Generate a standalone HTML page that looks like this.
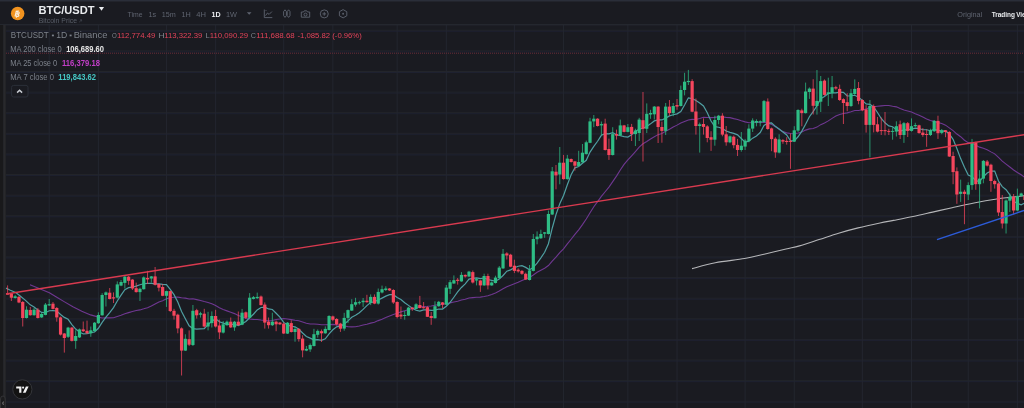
<!DOCTYPE html>
<html><head><meta charset="utf-8">
<style>
html,body{margin:0;padding:0;}
body{width:1024px;height:408px;overflow:hidden;background:#1a1b21;position:relative;font-family:"Liberation Sans",sans-serif;}
svg{position:absolute;left:0;top:0;filter:blur(0.3px);}
text{font-family:"Liberation Sans",sans-serif;}
</style></head><body>
<svg width="1024" height="408" viewBox="0 0 1024 408">
<rect x="0" y="0" width="1024" height="408" fill="#1a1b21"/>
<rect x="6" y="29.78" width="1018" height="1" fill="#23252b"/>
<rect x="6" y="30.78" width="1018" height="1" fill="#1e2130"/>
<rect x="6" y="50.39" width="1018" height="1" fill="#23252b"/>
<rect x="6" y="51.39" width="1018" height="1" fill="#1e2130"/>
<rect x="6" y="71" width="1018" height="1" fill="#23252b"/>
<rect x="6" y="72" width="1018" height="1" fill="#1e2130"/>
<rect x="6" y="91.61" width="1018" height="1" fill="#23252b"/>
<rect x="6" y="92.61" width="1018" height="1" fill="#1e2130"/>
<rect x="6" y="112.22" width="1018" height="1" fill="#23252b"/>
<rect x="6" y="113.22" width="1018" height="1" fill="#1e2130"/>
<rect x="6" y="132.83" width="1018" height="1" fill="#23252b"/>
<rect x="6" y="133.83" width="1018" height="1" fill="#1e2130"/>
<rect x="6" y="153.44" width="1018" height="1" fill="#23252b"/>
<rect x="6" y="154.44" width="1018" height="1" fill="#1e2130"/>
<rect x="6" y="174.05" width="1018" height="1" fill="#23252b"/>
<rect x="6" y="175.05" width="1018" height="1" fill="#1e2130"/>
<rect x="6" y="194.66" width="1018" height="1" fill="#23252b"/>
<rect x="6" y="195.66" width="1018" height="1" fill="#1e2130"/>
<rect x="6" y="215.27" width="1018" height="1" fill="#23252b"/>
<rect x="6" y="216.27" width="1018" height="1" fill="#1e2130"/>
<rect x="6" y="235.88" width="1018" height="1" fill="#23252b"/>
<rect x="6" y="236.88" width="1018" height="1" fill="#1e2130"/>
<rect x="6" y="256.49" width="1018" height="1" fill="#23252b"/>
<rect x="6" y="257.49" width="1018" height="1" fill="#1e2130"/>
<rect x="6" y="277.1" width="1018" height="1" fill="#23252b"/>
<rect x="6" y="278.1" width="1018" height="1" fill="#1e2130"/>
<rect x="6" y="297.71" width="1018" height="1" fill="#23252b"/>
<rect x="6" y="298.71" width="1018" height="1" fill="#1e2130"/>
<rect x="6" y="318.32" width="1018" height="1" fill="#23252b"/>
<rect x="6" y="319.32" width="1018" height="1" fill="#1e2130"/>
<rect x="6" y="338.93" width="1018" height="1" fill="#23252b"/>
<rect x="6" y="339.93" width="1018" height="1" fill="#1e2130"/>
<rect x="6" y="359.54" width="1018" height="1" fill="#23252b"/>
<rect x="6" y="360.54" width="1018" height="1" fill="#1e2130"/>
<rect x="6" y="380.15" width="1018" height="1" fill="#23252b"/>
<rect x="6" y="381.15" width="1018" height="1" fill="#1e2130"/>
<rect x="6" y="400.76" width="1018" height="1" fill="#23252b"/>
<rect x="6" y="401.76" width="1018" height="1" fill="#1e2130"/>
<rect x="48.7" y="25" width="1" height="383" fill="#23262f"/>
<rect x="97.87" y="25" width="1" height="383" fill="#23262f"/>
<rect x="165.94" y="25" width="1" height="383" fill="#23262f"/>
<rect x="215.11" y="25" width="1" height="383" fill="#23262f"/>
<rect x="283.19" y="25" width="1" height="383" fill="#23262f"/>
<rect x="332.35" y="25" width="1" height="383" fill="#23262f"/>
<rect x="396.65" y="25" width="1" height="383" fill="#23262f"/>
<rect x="445.81" y="25" width="1" height="383" fill="#23262f"/>
<rect x="513.89" y="25" width="1" height="383" fill="#23262f"/>
<rect x="563.05" y="25" width="1" height="383" fill="#23262f"/>
<rect x="627.35" y="25" width="1" height="383" fill="#23262f"/>
<rect x="676.51" y="25" width="1" height="383" fill="#23262f"/>
<rect x="744.59" y="25" width="1" height="383" fill="#23262f"/>
<rect x="793.76" y="25" width="1" height="383" fill="#23262f"/>
<rect x="861.83" y="25" width="1" height="383" fill="#23262f"/>
<rect x="911" y="25" width="1" height="383" fill="#23262f"/>
<rect x="967.73" y="25" width="1" height="383" fill="#23262f"/>
<rect x="1016.89" y="25" width="1" height="383" fill="#23262f"/>
<line x1="6" y1="53.2" x2="1024" y2="53.2" stroke="#6a2c38" stroke-width="1" stroke-dasharray="1 1"/>
<path d="M692.05,268.60 C695.92,267.62 706.54,264.38 715.30,262.70 C724.06,261.02 736.47,259.97 744.60,258.55 C752.73,257.13 757.20,255.79 764.10,254.20 C771.00,252.61 780.10,250.38 786.00,249.00 C791.90,247.62 793.98,247.47 799.50,245.90 C805.02,244.33 812.58,241.72 819.10,239.60 C825.62,237.48 832.10,235.15 838.60,233.20 C845.10,231.25 851.20,229.60 858.10,227.90 C865.00,226.20 874.10,224.25 880.00,223.00 C885.90,221.75 887.98,221.48 893.50,220.40 C899.02,219.32 906.58,217.88 913.10,216.50 C919.62,215.12 926.10,213.57 932.60,212.10 C939.10,210.63 945.20,209.22 952.10,207.70 C959.00,206.18 966.55,204.45 974.00,203.00 C981.45,201.55 990.80,199.93 996.80,199.00 C1002.80,198.07 1005.47,197.93 1010.00,197.40 C1014.53,196.87 1021.67,196.07 1024.00,195.80" fill="none" stroke="#b4b5b8" stroke-width="1.1"/>
<path d="M30,284.7 L39.1,288.4 L49.4,292.8 L56.8,297.2 L64.1,301.6 L72.9,306.8 L81.8,311.2 L90.6,314.9 L99.4,317.4 L102.15,318.01 L105.93,317.8 L109.71,317.9 L113.5,317.74 L117.28,316.4 L121.06,315.29 L124.84,313.75 L128.62,312.6 L132.41,311.42 L136.19,310.54 L139.97,309.91 L143.75,308.84 L147.53,307.66 L151.32,306.02 L155.1,304.02 L158.88,302.01 L162.66,300.74 L166.44,298.75 L170.23,297.75 L174.01,297.2 L177.79,297.09 L181.57,297.78 L185.35,298.12 L189.14,299 L192.92,298.83 L196.7,299.64 L200.48,300.48 L204.26,301.58 L208.05,302.54 L211.83,303.8 L215.61,305.58 L219.39,307.81 L223.17,309.55 L226.96,310.88 L230.74,312.29 L234.52,313.61 L238.3,315.52 L242.08,316.85 L245.87,318.51 L249.65,319.02 L253.43,319.4 L257.21,319.45 L260.99,320.01 L264.78,320.47 L268.56,320.85 L272.34,320.58 L276.12,319.53 L279.9,318.95 L283.69,318.5 L287.47,318.98 L291.25,319.65 L295.03,320.28 L298.81,320.78 L302.6,321.9 L306.38,323.21 L310.16,323.95 L313.94,324.02 L317.72,324.29 L321.51,324.75 L325.29,324.81 L329.07,324.58 L332.85,324.37 L336.63,324.84 L340.42,325.27 L344.2,326.08 L347.98,326.6 L351.76,326.89 L355.54,326.77 L359.33,325.96 L363.11,324.98 L366.89,324.2 L370.67,323.1 L374.45,322.27 L378.24,320.61 L382.02,319.27 L385.8,317.53 L389.58,315.98 L393.36,314.52 L397.15,313.18 L400.93,311.89 L404.71,310.69 L408.49,309.62 L412.27,308.75 L416.06,307.59 L419.84,306.76 L423.62,306.44 L427.4,306.32 L431.18,306.07 L434.97,305.17 L438.75,304.52 L442.53,304.31 L446.31,303.64 L450.09,302.84 L453.88,301.96 L457.66,301.17 L461.44,300.08 L465.22,299.26 L469,297.98 L472.79,297.61 L476.57,297.21 L480.35,297.08 L484.13,296.51 L487.91,295.82 L491.7,294.44 L495.48,292.89 L499.26,290.99 L503.04,288.84 L506.82,286.7 L510.61,285.19 L514.39,283.71 L518.17,282.24 L521.95,280.52 L525.73,278.98 L529.52,277.54 L533.3,275.03 L537.08,272.31 L540.86,270.16 L544.64,268.17 L548.43,265.52 L552.21,261.14 L555.99,257.16 L559.77,252.6 L563.55,248.9 L567.34,243.95 L571.12,239.26 L574.9,234.47 L578.68,229.91 L582.46,224.6 L586.25,219 L590.03,212.75 L593.81,206.79 L597.59,201.68 L601.37,196.42 L605.16,191.76 L608.94,187.12 L612.72,181.63 L616.5,176.1 L620.28,169.94 L624.07,164.4 L627.85,159.92 L631.63,155.82 L635.41,151.68 L639.19,147.18 L642.98,143.77 L646.76,141.47 L650.54,138.97 L654.32,136.73 L658.1,134.64 L661.89,133.54 L665.67,131.32 L669.45,129.22 L673.23,126.98 L677.01,125.13 L680.8,123.04 L684.58,121.45 L688.36,119.94 L692.14,119.37 L695.92,119.44 L699.71,118.42 L703.49,117.29 L707.27,117.45 L711.05,117.61 L714.83,117.4 L718.62,116.75 L722.4,117.04 L726.18,117.37 L729.96,117.6 L733.74,118.63 L737.53,119.48 L741.31,120.75 L745.09,121.86 L748.87,122.74 L752.65,122.48 L756.44,122.08 L760.22,122.66 L764,122.18 L767.78,123.1 L771.56,124.4 L775.35,126.9 L779.13,129.21 L782.91,131.64 L786.69,132.85 L790.47,133.47 L794.26,133.71 L798.04,133.04 L801.82,132.04 L805.6,130.11 L809.38,128.86 L813.17,128.46 L816.95,127.11 L820.73,124.66 L824.51,123.01 L828.29,120.89 L832.08,118.38 L835.86,116.09 L839.64,114.47 L843.42,113.44 L847.2,112.86 L850.99,111.75 L854.77,110.46 L858.55,110.45 L862.33,109.7 L866.11,109.14 L869.9,107.28 L873.68,106.7 L877.46,106.3 L881.24,105.86 L885.02,105.44 L888.81,105.49 L892.59,106.33 L896.37,106.85 L900.15,108.59 L903.93,109.98 L907.72,110.98 L911.5,111.99 L915.28,113.75 L919.06,115.27 L922.84,116.98 L926.63,118.89 L930.41,120.56 L934.19,121.39 L937.97,122.6 L941.75,123.57 L945.54,125.12 L949.32,127.83 L953.1,130.68 L956.88,134.04 L960.66,136.72 L964.45,140.23 L968.23,142.64 L972.01,143.09 L975.79,145.22 L979.57,147.12 L983.36,148.29 L987.14,149.68 L990.92,151.87 L994.7,153.84 L998.48,157.41 L1002.27,161.11 L1006.05,164.08 L1009.83,166.95 L1013.61,170.05 L1017.39,172.49 L1021.18,174.83 L1024.96,177.62" fill="none" stroke="#6f3791" stroke-width="1.1"/>
<path d="M5.9,288.1 L9.8,290 L15.7,292.5 L19.6,295.5 L25.5,300.4 L30.29,304.86 L34.07,307.01 L37.86,309.91 L41.64,312.44 L45.42,312.74 L49.2,310.77 L52.98,310.66 L56.77,310.97 L60.55,314.53 L64.33,317.39 L68.11,319.33 L71.89,324.51 L75.68,329.06 L79.46,331.99 L83.24,333.96 L87.02,333.77 L90.8,332.67 L94.59,331.97 L98.37,328.27 L102.15,322.41 L105.93,317.13 L109.71,312.53 L113.5,307.56 L117.28,301 L121.06,295.19 L124.84,289.71 L128.62,287.69 L132.41,287.13 L136.19,286.14 L139.97,284.76 L143.75,283.76 L147.53,283.39 L151.32,283.34 L155.1,283.91 L158.88,283.8 L162.66,284.33 L166.44,284.66 L170.23,289.46 L174.01,294.64 L177.79,302.07 L181.57,311.47 L185.35,318.77 L189.14,325.76 L192.92,328.57 L196.7,329.19 L200.48,328.84 L204.26,328.57 L208.05,324.56 L211.83,321.3 L215.61,318.7 L219.39,321.79 L223.17,323.07 L226.96,324.27 L230.74,324.4 L234.52,324.29 L238.3,325.6 L242.08,323.63 L245.87,321.54 L249.65,317.74 L253.43,314.24 L257.21,309.89 L260.99,307.51 L264.78,307.14 L268.56,308.93 L272.34,309.49 L276.12,313.29 L279.9,317.16 L283.69,322.39 L287.47,324.9 L291.25,326.24 L295.03,326.79 L298.81,329.27 L302.6,333 L306.38,336.51 L310.16,338.16 L313.94,339.8 L317.72,339.64 L321.51,340.26 L325.29,338.8 L329.07,333.89 L332.85,329.73 L336.63,326.79 L340.42,326 L344.2,324.14 L347.98,320.83 L351.76,317.3 L355.54,315.33 L359.33,312.81 L363.11,309.43 L366.89,305.64 L370.67,302.64 L374.45,301.71 L378.24,299.96 L382.02,298.1 L385.8,296.14 L389.58,294.67 L393.36,294.71 L397.15,297.59 L400.93,299.43 L404.71,302.73 L408.49,305.36 L412.27,308.3 L416.06,310.29 L419.84,311.07 L423.62,309.81 L427.4,309.86 L431.18,310.29 L434.97,310.09 L438.75,309.04 L442.53,309.1 L446.31,306.19 L450.09,302.47 L453.88,297.24 L457.66,291.94 L461.44,287.47 L465.22,283.86 L469,279.13 L472.79,278.4 L476.57,277.97 L480.35,278.71 L484.13,278.01 L487.91,279.51 L491.7,280.37 L495.48,281.23 L499.26,279.1 L503.04,275.47 L506.82,271.2 L510.61,269.87 L514.39,267.8 L518.17,266.21 L521.95,265.67 L525.73,267.37 L529.52,269.74 L533.3,267.39 L537.08,263.09 L540.86,257.81 L544.64,252.23 L548.43,243.69 L552.21,228.23 L555.99,214.66 L559.77,203.76 L563.55,195.54 L567.34,184.77 L571.12,174.73 L574.9,167.83 L578.68,166.5 L582.46,163.26 L586.25,160.34 L590.03,152.1 L593.81,146.4 L597.59,141.26 L601.37,135.31 L605.16,133.6 L608.94,133.93 L612.72,132.76 L616.5,134.79 L620.28,135.74 L624.07,136.59 L627.85,137.03 L631.63,134.76 L635.41,131.26 L639.19,129.19 L642.98,128.21 L646.76,126.56 L650.54,123.86 L654.32,120.91 L658.1,119.9 L661.89,119.96 L665.67,118.1 L669.45,115.86 L673.23,114.74 L677.01,113.83 L680.8,111.46 L684.58,104.99 L688.36,97.84 L692.14,98.57 L695.92,100.41 L699.71,103.03 L703.49,105.93 L707.27,112.79 L711.05,121.07 L714.83,126.66 L718.62,127.23 L722.4,128.46 L726.18,131.03 L729.96,132.37 L733.74,133.4 L737.53,134.87 L741.31,138.54 L745.09,142.1 L748.87,141.24 L752.65,138.13 L756.44,135.94 L760.22,132.51 L764,125.53 L767.78,123.14 L771.56,122.93 L775.35,126.33 L779.13,129.03 L782.91,131.97 L786.69,134.94 L790.47,140.73 L794.26,140.91 L798.04,136.76 L801.82,131.14 L805.6,124.3 L809.38,116.73 L813.17,111.56 L816.95,105.74 L820.73,98.71 L824.51,96.56 L828.29,93.59 L832.08,92.97 L835.86,92.96 L839.64,92.13 L843.42,92.43 L847.2,95.99 L850.99,95.74 L854.77,95.26 L858.55,97.21 L862.33,100.33 L866.11,103.89 L869.9,104.31 L873.68,107.01 L877.46,112.5 L881.24,118.5 L885.02,122.83 L888.81,125.87 L892.59,126.73 L896.37,129.61 L900.15,131.06 L903.93,129.86 L907.72,129.86 L911.5,129.14 L915.28,128.2 L919.06,128.5 L922.84,129.76 L926.63,129.76 L930.41,130.74 L934.19,129.31 L937.97,130.31 L941.75,131.07 L945.54,130.93 L949.32,134 L953.1,139.3 L956.88,148.5 L960.66,158.61 L964.45,167.29 L968.23,175.11 L972.01,176.66 L975.79,180.61 L979.57,181.54 L983.36,176.74 L987.14,173.01 L990.92,171.17 L994.7,171.04 L998.48,181 L1002.27,186.61 L1006.05,189.74 L1009.83,194.86 L1013.61,201.27 L1017.39,203.4 L1021.18,204.73 L1024.96,202.94" fill="none" stroke="#4f9fa2" stroke-width="1.2"/>
<rect x="7.1" y="285.4" width="1" height="9.2" fill="#f6465d" fill-opacity="0.75"/>
<rect x="6" y="293" width="3.2" height="1.6" fill="#f6465d"/>
<rect x="10.88" y="293" width="1" height="8" fill="#f6465d" fill-opacity="0.75"/>
<rect x="9.78" y="293.4" width="3.2" height="4.3" fill="#f6465d"/>
<rect x="14.66" y="295" width="1" height="3.6" fill="#2ebd85" fill-opacity="0.75"/>
<rect x="13.56" y="296.3" width="3.2" height="1.7" fill="#2ebd85"/>
<rect x="18.45" y="296" width="1" height="7.2" fill="#f6465d" fill-opacity="0.75"/>
<rect x="17.35" y="296.9" width="3.2" height="5.6" fill="#f6465d"/>
<rect x="22.23" y="301" width="1" height="25.5" fill="#f6465d" fill-opacity="0.75"/>
<rect x="21.13" y="302" width="3.2" height="16" fill="#f6465d"/>
<rect x="26.01" y="306.3" width="1" height="12.2" fill="#2ebd85" fill-opacity="0.75"/>
<rect x="24.91" y="309.7" width="3.2" height="8.3" fill="#2ebd85"/>
<rect x="29.79" y="307" width="1" height="8.7" fill="#f6465d" fill-opacity="0.75"/>
<rect x="28.69" y="310" width="3.2" height="5.2" fill="#f6465d"/>
<rect x="33.57" y="308" width="1" height="7.7" fill="#2ebd85" fill-opacity="0.75"/>
<rect x="32.47" y="309.7" width="3.2" height="5.5" fill="#2ebd85"/>
<rect x="37.36" y="308" width="1" height="10.5" fill="#f6465d" fill-opacity="0.75"/>
<rect x="36.26" y="309.7" width="3.2" height="8.3" fill="#f6465d"/>
<rect x="41.14" y="313" width="1" height="5" fill="#2ebd85" fill-opacity="0.75"/>
<rect x="40.04" y="314" width="3.2" height="3.4" fill="#2ebd85"/>
<rect x="44.92" y="303" width="1" height="12.3" fill="#2ebd85" fill-opacity="0.75"/>
<rect x="43.82" y="304.6" width="3.2" height="10.3" fill="#2ebd85"/>
<rect x="48.7" y="299" width="1" height="7" fill="#2ebd85" fill-opacity="0.75"/>
<rect x="47.6" y="304.2" width="3.2" height="1.2" fill="#2ebd85"/>
<rect x="52.48" y="302" width="1" height="7.4" fill="#f6465d" fill-opacity="0.75"/>
<rect x="51.38" y="303.7" width="3.2" height="5.2" fill="#f6465d"/>
<rect x="56.27" y="307" width="1" height="14.7" fill="#f6465d" fill-opacity="0.75"/>
<rect x="55.17" y="308" width="3.2" height="9.4" fill="#f6465d"/>
<rect x="60.05" y="316.5" width="1" height="19" fill="#f6465d" fill-opacity="0.75"/>
<rect x="58.95" y="317.4" width="3.2" height="17.2" fill="#f6465d"/>
<rect x="63.83" y="333" width="1" height="19.6" fill="#f6465d" fill-opacity="0.75"/>
<rect x="62.73" y="333.5" width="3.2" height="4.5" fill="#f6465d"/>
<rect x="67.61" y="326.8" width="1" height="11.2" fill="#2ebd85" fill-opacity="0.75"/>
<rect x="66.51" y="327.6" width="3.2" height="9.2" fill="#2ebd85"/>
<rect x="71.39" y="327" width="1" height="14.5" fill="#f6465d" fill-opacity="0.75"/>
<rect x="70.29" y="327.6" width="3.2" height="13.3" fill="#f6465d"/>
<rect x="75.18" y="330.3" width="1" height="18.5" fill="#2ebd85" fill-opacity="0.75"/>
<rect x="74.08" y="336" width="3.2" height="4.9" fill="#2ebd85"/>
<rect x="78.96" y="328.5" width="1" height="9.5" fill="#2ebd85" fill-opacity="0.75"/>
<rect x="77.86" y="329.4" width="3.2" height="8" fill="#2ebd85"/>
<rect x="82.74" y="321.5" width="1" height="10.5" fill="#f6465d" fill-opacity="0.75"/>
<rect x="81.64" y="329.4" width="3.2" height="1.8" fill="#f6465d"/>
<rect x="86.52" y="320.6" width="1" height="13.4" fill="#f6465d" fill-opacity="0.75"/>
<rect x="85.42" y="330.8" width="3.2" height="2.5" fill="#f6465d"/>
<rect x="90.3" y="326.5" width="1" height="10.3" fill="#2ebd85" fill-opacity="0.75"/>
<rect x="89.2" y="330.3" width="3.2" height="3" fill="#2ebd85"/>
<rect x="94.09" y="322" width="1" height="9.5" fill="#2ebd85" fill-opacity="0.75"/>
<rect x="92.99" y="322.7" width="3.2" height="8.5" fill="#2ebd85"/>
<rect x="97.87" y="312.3" width="1" height="11.7" fill="#2ebd85" fill-opacity="0.75"/>
<rect x="96.77" y="315" width="3.2" height="8.2" fill="#2ebd85"/>
<rect x="101.65" y="293.2" width="1" height="22.4" fill="#2ebd85" fill-opacity="0.75"/>
<rect x="100.55" y="295" width="3.2" height="20.3" fill="#2ebd85"/>
<rect x="105.43" y="291.5" width="1" height="15" fill="#2ebd85" fill-opacity="0.75"/>
<rect x="104.33" y="292.4" width="3.2" height="2.6" fill="#2ebd85"/>
<rect x="109.21" y="288" width="1" height="11.4" fill="#f6465d" fill-opacity="0.75"/>
<rect x="108.11" y="292.7" width="3.2" height="6.3" fill="#f6465d"/>
<rect x="113" y="292.4" width="1" height="10.6" fill="#f6465d" fill-opacity="0.75"/>
<rect x="111.9" y="297.3" width="3.2" height="1.2" fill="#f6465d"/>
<rect x="116.78" y="281.4" width="1" height="17.1" fill="#2ebd85" fill-opacity="0.75"/>
<rect x="115.68" y="284.4" width="3.2" height="13.2" fill="#2ebd85"/>
<rect x="120.56" y="280" width="1" height="6.2" fill="#2ebd85" fill-opacity="0.75"/>
<rect x="119.46" y="282" width="3.2" height="3.6" fill="#2ebd85"/>
<rect x="124.34" y="276" width="1" height="12.5" fill="#2ebd85" fill-opacity="0.75"/>
<rect x="123.24" y="276.7" width="3.2" height="6.2" fill="#2ebd85"/>
<rect x="128.12" y="276" width="1" height="8.8" fill="#f6465d" fill-opacity="0.75"/>
<rect x="127.02" y="276.7" width="3.2" height="4.1" fill="#f6465d"/>
<rect x="131.91" y="279" width="1" height="11" fill="#f6465d" fill-opacity="0.75"/>
<rect x="130.81" y="279.6" width="3.2" height="8.9" fill="#f6465d"/>
<rect x="135.69" y="282.6" width="1" height="10" fill="#f6465d" fill-opacity="0.75"/>
<rect x="134.59" y="288.2" width="3.2" height="3.9" fill="#f6465d"/>
<rect x="139.47" y="287.7" width="1" height="13.3" fill="#2ebd85" fill-opacity="0.75"/>
<rect x="138.37" y="288.8" width="3.2" height="3.3" fill="#2ebd85"/>
<rect x="143.25" y="276.4" width="1" height="13.2" fill="#2ebd85" fill-opacity="0.75"/>
<rect x="142.15" y="277.4" width="3.2" height="11.8" fill="#2ebd85"/>
<rect x="147.03" y="270.8" width="1" height="13.2" fill="#f6465d" fill-opacity="0.75"/>
<rect x="145.93" y="277.9" width="3.2" height="1.5" fill="#f6465d"/>
<rect x="150.82" y="276" width="1" height="6.6" fill="#2ebd85" fill-opacity="0.75"/>
<rect x="149.72" y="276.4" width="3.2" height="2.1" fill="#2ebd85"/>
<rect x="154.6" y="267" width="1" height="18.5" fill="#f6465d" fill-opacity="0.75"/>
<rect x="153.5" y="276.4" width="3.2" height="8.4" fill="#f6465d"/>
<rect x="158.38" y="283.3" width="1" height="8.1" fill="#f6465d" fill-opacity="0.75"/>
<rect x="157.28" y="284" width="3.2" height="3.7" fill="#f6465d"/>
<rect x="162.16" y="284" width="1" height="12.2" fill="#f6465d" fill-opacity="0.75"/>
<rect x="161.06" y="287" width="3.2" height="8.8" fill="#f6465d"/>
<rect x="165.94" y="290.7" width="1" height="16.2" fill="#2ebd85" fill-opacity="0.75"/>
<rect x="164.84" y="291.1" width="3.2" height="4.7" fill="#2ebd85"/>
<rect x="169.73" y="290.7" width="1" height="21.3" fill="#f6465d" fill-opacity="0.75"/>
<rect x="168.63" y="291.1" width="3.2" height="19.9" fill="#f6465d"/>
<rect x="173.51" y="308.8" width="1" height="10.8" fill="#f6465d" fill-opacity="0.75"/>
<rect x="172.41" y="310.8" width="3.2" height="4.9" fill="#f6465d"/>
<rect x="177.29" y="313.7" width="1" height="19.6" fill="#f6465d" fill-opacity="0.75"/>
<rect x="176.19" y="314.7" width="3.2" height="13.7" fill="#f6465d"/>
<rect x="181.07" y="327.4" width="1" height="48.1" fill="#f6465d" fill-opacity="0.75"/>
<rect x="179.97" y="328.4" width="3.2" height="22.2" fill="#f6465d"/>
<rect x="184.85" y="334.3" width="1" height="16.7" fill="#2ebd85" fill-opacity="0.75"/>
<rect x="183.75" y="338.8" width="3.2" height="11.8" fill="#2ebd85"/>
<rect x="188.64" y="330.4" width="1" height="15.6" fill="#f6465d" fill-opacity="0.75"/>
<rect x="187.54" y="339.2" width="3.2" height="5.5" fill="#f6465d"/>
<rect x="192.42" y="305" width="1" height="41" fill="#2ebd85" fill-opacity="0.75"/>
<rect x="191.32" y="310.8" width="3.2" height="34.2" fill="#2ebd85"/>
<rect x="196.2" y="308.8" width="1" height="9.8" fill="#f6465d" fill-opacity="0.75"/>
<rect x="195.1" y="310.2" width="3.2" height="5.1" fill="#f6465d"/>
<rect x="199.98" y="311.8" width="1" height="5.8" fill="#2ebd85" fill-opacity="0.75"/>
<rect x="198.88" y="313.3" width="3.2" height="1.4" fill="#2ebd85"/>
<rect x="203.76" y="308.8" width="1" height="18.7" fill="#f6465d" fill-opacity="0.75"/>
<rect x="202.66" y="313.7" width="3.2" height="12.8" fill="#f6465d"/>
<rect x="207.55" y="311.8" width="1" height="18.6" fill="#2ebd85" fill-opacity="0.75"/>
<rect x="206.45" y="322.5" width="3.2" height="4" fill="#2ebd85"/>
<rect x="211.33" y="311.4" width="1" height="16.1" fill="#2ebd85" fill-opacity="0.75"/>
<rect x="210.23" y="316" width="3.2" height="7.1" fill="#2ebd85"/>
<rect x="215.11" y="309.8" width="1" height="17.7" fill="#f6465d" fill-opacity="0.75"/>
<rect x="214.01" y="316" width="3.2" height="10.5" fill="#f6465d"/>
<rect x="218.89" y="319.6" width="1" height="19.4" fill="#f6465d" fill-opacity="0.75"/>
<rect x="217.79" y="325.5" width="3.2" height="6.9" fill="#f6465d"/>
<rect x="222.67" y="321" width="1" height="12.5" fill="#2ebd85" fill-opacity="0.75"/>
<rect x="221.57" y="324.3" width="3.2" height="8.3" fill="#2ebd85"/>
<rect x="226.46" y="320.5" width="1" height="5.2" fill="#2ebd85" fill-opacity="0.75"/>
<rect x="225.36" y="321.7" width="3.2" height="3.5" fill="#2ebd85"/>
<rect x="230.24" y="317.5" width="1" height="10.5" fill="#f6465d" fill-opacity="0.75"/>
<rect x="229.14" y="321.7" width="3.2" height="5.7" fill="#f6465d"/>
<rect x="234.02" y="320.9" width="1" height="9.9" fill="#2ebd85" fill-opacity="0.75"/>
<rect x="232.92" y="321.7" width="3.2" height="5.7" fill="#2ebd85"/>
<rect x="237.8" y="311.5" width="1" height="14.2" fill="#f6465d" fill-opacity="0.75"/>
<rect x="236.7" y="321.7" width="3.2" height="3.5" fill="#f6465d"/>
<rect x="241.58" y="308.9" width="1" height="16.3" fill="#2ebd85" fill-opacity="0.75"/>
<rect x="240.48" y="312.7" width="3.2" height="12" fill="#2ebd85"/>
<rect x="245.37" y="311.5" width="1" height="7.3" fill="#f6465d" fill-opacity="0.75"/>
<rect x="244.27" y="312.3" width="3.2" height="5.5" fill="#f6465d"/>
<rect x="249.15" y="293.1" width="1" height="25.2" fill="#2ebd85" fill-opacity="0.75"/>
<rect x="248.05" y="297.7" width="3.2" height="20.1" fill="#2ebd85"/>
<rect x="252.93" y="296" width="1" height="3.4" fill="#2ebd85" fill-opacity="0.75"/>
<rect x="251.83" y="297.2" width="3.2" height="1.7" fill="#2ebd85"/>
<rect x="256.71" y="292.6" width="1" height="6.3" fill="#2ebd85" fill-opacity="0.75"/>
<rect x="255.61" y="296.9" width="3.2" height="1.3" fill="#2ebd85"/>
<rect x="260.49" y="295.5" width="1" height="10" fill="#f6465d" fill-opacity="0.75"/>
<rect x="259.39" y="296.5" width="3.2" height="8.6" fill="#f6465d"/>
<rect x="264.28" y="302.4" width="1" height="26.2" fill="#f6465d" fill-opacity="0.75"/>
<rect x="263.18" y="304.6" width="3.2" height="18" fill="#f6465d"/>
<rect x="268.06" y="317.5" width="1" height="11.1" fill="#f6465d" fill-opacity="0.75"/>
<rect x="266.96" y="321.7" width="3.2" height="3.5" fill="#f6465d"/>
<rect x="271.84" y="312.7" width="1" height="13.3" fill="#2ebd85" fill-opacity="0.75"/>
<rect x="270.74" y="321.7" width="3.2" height="3.5" fill="#2ebd85"/>
<rect x="275.62" y="320.5" width="1" height="10.7" fill="#f6465d" fill-opacity="0.75"/>
<rect x="274.52" y="321.7" width="3.2" height="2.6" fill="#f6465d"/>
<rect x="279.4" y="322" width="1" height="3" fill="#f6465d" fill-opacity="0.75"/>
<rect x="278.3" y="322.6" width="3.2" height="1.7" fill="#f6465d"/>
<rect x="283.19" y="322.5" width="1" height="11.5" fill="#f6465d" fill-opacity="0.75"/>
<rect x="282.09" y="323.7" width="3.2" height="9.8" fill="#f6465d"/>
<rect x="286.97" y="322" width="1" height="12" fill="#2ebd85" fill-opacity="0.75"/>
<rect x="285.87" y="322.7" width="3.2" height="10.9" fill="#2ebd85"/>
<rect x="290.75" y="320.3" width="1" height="12.2" fill="#f6465d" fill-opacity="0.75"/>
<rect x="289.65" y="323.1" width="3.2" height="8.9" fill="#f6465d"/>
<rect x="294.53" y="327" width="1" height="14.7" fill="#2ebd85" fill-opacity="0.75"/>
<rect x="293.43" y="329" width="3.2" height="3" fill="#2ebd85"/>
<rect x="298.31" y="328" width="1" height="13.6" fill="#f6465d" fill-opacity="0.75"/>
<rect x="297.21" y="328.9" width="3.2" height="10.2" fill="#f6465d"/>
<rect x="302.1" y="335.2" width="1" height="22.1" fill="#f6465d" fill-opacity="0.75"/>
<rect x="301" y="338.6" width="3.2" height="11.8" fill="#f6465d"/>
<rect x="305.88" y="346" width="1" height="5.2" fill="#2ebd85" fill-opacity="0.75"/>
<rect x="304.78" y="348.9" width="3.2" height="1.7" fill="#2ebd85"/>
<rect x="309.66" y="343.5" width="1" height="8.4" fill="#2ebd85" fill-opacity="0.75"/>
<rect x="308.56" y="345" width="3.2" height="4.4" fill="#2ebd85"/>
<rect x="313.44" y="328.8" width="1" height="17.7" fill="#2ebd85" fill-opacity="0.75"/>
<rect x="312.34" y="334.2" width="3.2" height="11.8" fill="#2ebd85"/>
<rect x="317.22" y="329.5" width="1" height="8.1" fill="#2ebd85" fill-opacity="0.75"/>
<rect x="316.12" y="330.9" width="3.2" height="3.9" fill="#2ebd85"/>
<rect x="321.01" y="329.5" width="1" height="12.5" fill="#f6465d" fill-opacity="0.75"/>
<rect x="319.91" y="331.2" width="3.2" height="2.1" fill="#f6465d"/>
<rect x="324.79" y="326.4" width="1" height="7.4" fill="#2ebd85" fill-opacity="0.75"/>
<rect x="323.69" y="328.9" width="3.2" height="4.4" fill="#2ebd85"/>
<rect x="328.57" y="315.2" width="1" height="15.3" fill="#2ebd85" fill-opacity="0.75"/>
<rect x="327.47" y="316" width="3.2" height="14" fill="#2ebd85"/>
<rect x="332.35" y="315.6" width="1" height="5.6" fill="#f6465d" fill-opacity="0.75"/>
<rect x="331.25" y="316.4" width="3.2" height="3.4" fill="#f6465d"/>
<rect x="336.13" y="318.1" width="1" height="7.3" fill="#f6465d" fill-opacity="0.75"/>
<rect x="335.03" y="319" width="3.2" height="5.4" fill="#f6465d"/>
<rect x="339.92" y="322.8" width="1" height="9.1" fill="#f6465d" fill-opacity="0.75"/>
<rect x="338.82" y="323.6" width="3.2" height="5.1" fill="#f6465d"/>
<rect x="343.7" y="312.8" width="1" height="17.9" fill="#2ebd85" fill-opacity="0.75"/>
<rect x="342.6" y="317.9" width="3.2" height="10.7" fill="#2ebd85"/>
<rect x="347.48" y="309.5" width="1" height="13.5" fill="#2ebd85" fill-opacity="0.75"/>
<rect x="346.38" y="310.1" width="3.2" height="7.8" fill="#2ebd85"/>
<rect x="351.26" y="299.2" width="1" height="11.8" fill="#2ebd85" fill-opacity="0.75"/>
<rect x="350.16" y="304.2" width="3.2" height="6.4" fill="#2ebd85"/>
<rect x="355.04" y="297.8" width="1" height="8.8" fill="#2ebd85" fill-opacity="0.75"/>
<rect x="353.94" y="302.2" width="3.2" height="2.5" fill="#2ebd85"/>
<rect x="358.83" y="300.7" width="1" height="3.9" fill="#2ebd85" fill-opacity="0.75"/>
<rect x="357.73" y="302.2" width="3.2" height="1" fill="#2ebd85"/>
<rect x="362.61" y="298" width="1" height="8.9" fill="#2ebd85" fill-opacity="0.75"/>
<rect x="361.51" y="300.7" width="3.2" height="1.5" fill="#2ebd85"/>
<rect x="366.39" y="294.8" width="1" height="7.9" fill="#f6465d" fill-opacity="0.75"/>
<rect x="365.29" y="300.7" width="3.2" height="1.5" fill="#f6465d"/>
<rect x="370.17" y="294.4" width="1" height="10.7" fill="#2ebd85" fill-opacity="0.75"/>
<rect x="369.07" y="296.9" width="3.2" height="5.9" fill="#2ebd85"/>
<rect x="373.95" y="294.4" width="1" height="9.8" fill="#f6465d" fill-opacity="0.75"/>
<rect x="372.85" y="296.9" width="3.2" height="6.7" fill="#f6465d"/>
<rect x="377.74" y="288.5" width="1" height="16.1" fill="#2ebd85" fill-opacity="0.75"/>
<rect x="376.64" y="291.9" width="3.2" height="11.7" fill="#2ebd85"/>
<rect x="381.52" y="285.6" width="1" height="7.8" fill="#2ebd85" fill-opacity="0.75"/>
<rect x="380.42" y="289.2" width="3.2" height="3.3" fill="#2ebd85"/>
<rect x="385.3" y="286.3" width="1" height="4.7" fill="#2ebd85" fill-opacity="0.75"/>
<rect x="384.2" y="288.5" width="3.2" height="1.5" fill="#2ebd85"/>
<rect x="389.08" y="288" width="1" height="3" fill="#f6465d" fill-opacity="0.75"/>
<rect x="387.98" y="288.5" width="3.2" height="1.9" fill="#f6465d"/>
<rect x="392.86" y="289.2" width="1" height="14.7" fill="#f6465d" fill-opacity="0.75"/>
<rect x="391.76" y="290" width="3.2" height="12.5" fill="#f6465d"/>
<rect x="396.65" y="301.3" width="1" height="17.1" fill="#f6465d" fill-opacity="0.75"/>
<rect x="395.55" y="302" width="3.2" height="15" fill="#f6465d"/>
<rect x="400.43" y="306.5" width="1" height="12.5" fill="#f6465d" fill-opacity="0.75"/>
<rect x="399.33" y="314.6" width="3.2" height="1.9" fill="#f6465d"/>
<rect x="404.21" y="311" width="1" height="8.7" fill="#2ebd85" fill-opacity="0.75"/>
<rect x="403.11" y="315" width="3.2" height="1" fill="#2ebd85"/>
<rect x="407.99" y="306.8" width="1" height="9.2" fill="#2ebd85" fill-opacity="0.75"/>
<rect x="406.89" y="307.6" width="3.2" height="8" fill="#2ebd85"/>
<rect x="411.77" y="307.2" width="1" height="3.7" fill="#f6465d" fill-opacity="0.75"/>
<rect x="410.67" y="307.6" width="3.2" height="1.5" fill="#f6465d"/>
<rect x="415.56" y="303.2" width="1" height="6.2" fill="#2ebd85" fill-opacity="0.75"/>
<rect x="414.46" y="304.3" width="3.2" height="4.8" fill="#2ebd85"/>
<rect x="419.34" y="295.9" width="1" height="12.4" fill="#f6465d" fill-opacity="0.75"/>
<rect x="418.24" y="305" width="3.2" height="3" fill="#f6465d"/>
<rect x="423.12" y="302" width="1" height="6.7" fill="#f6465d" fill-opacity="0.75"/>
<rect x="422.02" y="307.2" width="3.2" height="1" fill="#f6465d"/>
<rect x="426.9" y="306.2" width="1" height="10.8" fill="#f6465d" fill-opacity="0.75"/>
<rect x="425.8" y="307.2" width="3.2" height="9.6" fill="#f6465d"/>
<rect x="430.68" y="312" width="1" height="12.8" fill="#f6465d" fill-opacity="0.75"/>
<rect x="429.58" y="316" width="3.2" height="2" fill="#f6465d"/>
<rect x="434.47" y="301.3" width="1" height="17.2" fill="#2ebd85" fill-opacity="0.75"/>
<rect x="433.37" y="306.2" width="3.2" height="12" fill="#2ebd85"/>
<rect x="438.25" y="300.9" width="1" height="5.9" fill="#2ebd85" fill-opacity="0.75"/>
<rect x="437.15" y="301.8" width="3.2" height="4.4" fill="#2ebd85"/>
<rect x="442.03" y="302" width="1" height="6.2" fill="#f6465d" fill-opacity="0.75"/>
<rect x="440.93" y="302.4" width="3.2" height="2.3" fill="#f6465d"/>
<rect x="445.81" y="285" width="1" height="20" fill="#2ebd85" fill-opacity="0.75"/>
<rect x="444.71" y="287.6" width="3.2" height="17.1" fill="#2ebd85"/>
<rect x="449.59" y="280" width="1" height="14" fill="#2ebd85" fill-opacity="0.75"/>
<rect x="448.49" y="282.2" width="3.2" height="6.6" fill="#2ebd85"/>
<rect x="453.38" y="275.4" width="1" height="8.4" fill="#2ebd85" fill-opacity="0.75"/>
<rect x="452.28" y="280.2" width="3.2" height="3.3" fill="#2ebd85"/>
<rect x="457.16" y="278" width="1" height="6.6" fill="#f6465d" fill-opacity="0.75"/>
<rect x="456.06" y="279.7" width="3.2" height="1.2" fill="#f6465d"/>
<rect x="460.94" y="272.1" width="1" height="9.7" fill="#2ebd85" fill-opacity="0.75"/>
<rect x="459.84" y="274.9" width="3.2" height="6.5" fill="#2ebd85"/>
<rect x="464.72" y="274.4" width="1" height="3.2" fill="#f6465d" fill-opacity="0.75"/>
<rect x="463.62" y="274.9" width="3.2" height="1.6" fill="#f6465d"/>
<rect x="468.5" y="270.8" width="1" height="6.2" fill="#2ebd85" fill-opacity="0.75"/>
<rect x="467.4" y="271.6" width="3.2" height="4.9" fill="#2ebd85"/>
<rect x="472.29" y="270.5" width="1" height="13" fill="#f6465d" fill-opacity="0.75"/>
<rect x="471.19" y="272.1" width="3.2" height="10.4" fill="#f6465d"/>
<rect x="476.07" y="278" width="1" height="7.4" fill="#2ebd85" fill-opacity="0.75"/>
<rect x="474.97" y="279.2" width="3.2" height="1.3" fill="#2ebd85"/>
<rect x="479.85" y="280.2" width="1" height="11.7" fill="#f6465d" fill-opacity="0.75"/>
<rect x="478.75" y="280.5" width="3.2" height="4.9" fill="#f6465d"/>
<rect x="483.63" y="273.7" width="1" height="12.1" fill="#2ebd85" fill-opacity="0.75"/>
<rect x="482.53" y="276" width="3.2" height="9.4" fill="#2ebd85"/>
<rect x="487.41" y="273.7" width="1" height="15.7" fill="#f6465d" fill-opacity="0.75"/>
<rect x="486.31" y="276" width="3.2" height="9.4" fill="#f6465d"/>
<rect x="491.2" y="281.4" width="1" height="4.4" fill="#2ebd85" fill-opacity="0.75"/>
<rect x="490.1" y="282.5" width="3.2" height="2.9" fill="#2ebd85"/>
<rect x="494.98" y="275.7" width="1" height="7.8" fill="#2ebd85" fill-opacity="0.75"/>
<rect x="493.88" y="277.6" width="3.2" height="5.4" fill="#2ebd85"/>
<rect x="498.76" y="266" width="1" height="12.6" fill="#2ebd85" fill-opacity="0.75"/>
<rect x="497.66" y="267.6" width="3.2" height="10.5" fill="#2ebd85"/>
<rect x="502.54" y="249" width="1" height="19.9" fill="#2ebd85" fill-opacity="0.75"/>
<rect x="501.44" y="253.8" width="3.2" height="14.6" fill="#2ebd85"/>
<rect x="506.32" y="252.2" width="1" height="7.3" fill="#f6465d" fill-opacity="0.75"/>
<rect x="505.22" y="253.4" width="3.2" height="2.1" fill="#f6465d"/>
<rect x="510.11" y="253.8" width="1" height="13.4" fill="#f6465d" fill-opacity="0.75"/>
<rect x="509.01" y="254.7" width="3.2" height="12" fill="#f6465d"/>
<rect x="513.89" y="259.7" width="1" height="13.4" fill="#f6465d" fill-opacity="0.75"/>
<rect x="512.79" y="265.7" width="3.2" height="5.2" fill="#f6465d"/>
<rect x="517.67" y="268.3" width="1" height="4.3" fill="#f6465d" fill-opacity="0.75"/>
<rect x="516.57" y="269.7" width="3.2" height="1.7" fill="#f6465d"/>
<rect x="521.45" y="270" width="1" height="4.8" fill="#f6465d" fill-opacity="0.75"/>
<rect x="520.35" y="270.9" width="3.2" height="2.9" fill="#f6465d"/>
<rect x="525.23" y="272.6" width="1" height="7.4" fill="#f6465d" fill-opacity="0.75"/>
<rect x="524.13" y="273.8" width="3.2" height="5.7" fill="#f6465d"/>
<rect x="529.02" y="265" width="1" height="15.5" fill="#2ebd85" fill-opacity="0.75"/>
<rect x="527.92" y="270.4" width="3.2" height="9.6" fill="#2ebd85"/>
<rect x="532.8" y="234" width="1" height="37.4" fill="#2ebd85" fill-opacity="0.75"/>
<rect x="531.7" y="239" width="3.2" height="31.9" fill="#2ebd85"/>
<rect x="536.58" y="231.4" width="1" height="12.9" fill="#2ebd85" fill-opacity="0.75"/>
<rect x="535.48" y="236.6" width="3.2" height="2.6" fill="#2ebd85"/>
<rect x="540.36" y="229.7" width="1" height="9.1" fill="#2ebd85" fill-opacity="0.75"/>
<rect x="539.26" y="234" width="3.2" height="4.3" fill="#2ebd85"/>
<rect x="544.14" y="232" width="1" height="5.8" fill="#2ebd85" fill-opacity="0.75"/>
<rect x="543.04" y="232.3" width="3.2" height="1.4" fill="#2ebd85"/>
<rect x="547.93" y="210.5" width="1" height="24" fill="#2ebd85" fill-opacity="0.75"/>
<rect x="546.83" y="214" width="3.2" height="20" fill="#2ebd85"/>
<rect x="551.71" y="167" width="1" height="48" fill="#2ebd85" fill-opacity="0.75"/>
<rect x="550.61" y="171.3" width="3.2" height="43.2" fill="#2ebd85"/>
<rect x="555.49" y="165" width="1" height="24.3" fill="#f6465d" fill-opacity="0.75"/>
<rect x="554.39" y="171.7" width="3.2" height="3.7" fill="#f6465d"/>
<rect x="559.27" y="147" width="1" height="37.3" fill="#2ebd85" fill-opacity="0.75"/>
<rect x="558.17" y="162.7" width="3.2" height="11.8" fill="#2ebd85"/>
<rect x="563.05" y="154.9" width="1" height="24.7" fill="#f6465d" fill-opacity="0.75"/>
<rect x="561.95" y="162.7" width="3.2" height="16.4" fill="#f6465d"/>
<rect x="566.84" y="154.9" width="1" height="24.7" fill="#2ebd85" fill-opacity="0.75"/>
<rect x="565.74" y="158.6" width="3.2" height="20.5" fill="#2ebd85"/>
<rect x="570.62" y="158.5" width="1" height="4" fill="#f6465d" fill-opacity="0.75"/>
<rect x="569.52" y="159" width="3.2" height="3" fill="#f6465d"/>
<rect x="574.4" y="160.9" width="1" height="9.8" fill="#f6465d" fill-opacity="0.75"/>
<rect x="573.3" y="161.4" width="3.2" height="4.3" fill="#f6465d"/>
<rect x="578.18" y="150.8" width="1" height="15.6" fill="#2ebd85" fill-opacity="0.75"/>
<rect x="577.08" y="162" width="3.2" height="4" fill="#2ebd85"/>
<rect x="581.96" y="144" width="1" height="18.7" fill="#2ebd85" fill-opacity="0.75"/>
<rect x="580.86" y="152.7" width="3.2" height="9.6" fill="#2ebd85"/>
<rect x="585.75" y="140.6" width="1" height="13.9" fill="#2ebd85" fill-opacity="0.75"/>
<rect x="584.65" y="142.3" width="3.2" height="11.8" fill="#2ebd85"/>
<rect x="589.53" y="117.8" width="1" height="25.4" fill="#2ebd85" fill-opacity="0.75"/>
<rect x="588.43" y="121.4" width="3.2" height="21.4" fill="#2ebd85"/>
<rect x="593.31" y="115" width="1" height="12.2" fill="#2ebd85" fill-opacity="0.75"/>
<rect x="592.21" y="118.7" width="3.2" height="2.7" fill="#2ebd85"/>
<rect x="597.09" y="118.2" width="1" height="8.3" fill="#f6465d" fill-opacity="0.75"/>
<rect x="595.99" y="118.7" width="3.2" height="7.3" fill="#f6465d"/>
<rect x="600.87" y="121.5" width="1" height="13.5" fill="#2ebd85" fill-opacity="0.75"/>
<rect x="599.77" y="124.1" width="3.2" height="1.3" fill="#2ebd85"/>
<rect x="604.66" y="118.7" width="1" height="31.8" fill="#f6465d" fill-opacity="0.75"/>
<rect x="603.56" y="123.6" width="3.2" height="26.4" fill="#f6465d"/>
<rect x="608.44" y="138.6" width="1" height="21.3" fill="#f6465d" fill-opacity="0.75"/>
<rect x="607.34" y="149" width="3.2" height="6" fill="#f6465d"/>
<rect x="612.22" y="127.2" width="1" height="28.3" fill="#2ebd85" fill-opacity="0.75"/>
<rect x="611.12" y="134.1" width="3.2" height="20.9" fill="#2ebd85"/>
<rect x="616" y="129.6" width="1" height="10" fill="#f6465d" fill-opacity="0.75"/>
<rect x="614.9" y="134.1" width="3.2" height="1.5" fill="#f6465d"/>
<rect x="619.78" y="119.6" width="1" height="16.4" fill="#2ebd85" fill-opacity="0.75"/>
<rect x="618.68" y="125.4" width="3.2" height="10.2" fill="#2ebd85"/>
<rect x="623.57" y="124.9" width="1" height="7.5" fill="#f6465d" fill-opacity="0.75"/>
<rect x="622.47" y="125.4" width="3.2" height="6.5" fill="#f6465d"/>
<rect x="627.35" y="124" width="1" height="8.3" fill="#2ebd85" fill-opacity="0.75"/>
<rect x="626.25" y="127.2" width="3.2" height="4.7" fill="#2ebd85"/>
<rect x="631.13" y="123.9" width="1" height="17.1" fill="#f6465d" fill-opacity="0.75"/>
<rect x="630.03" y="126.9" width="3.2" height="7.2" fill="#f6465d"/>
<rect x="634.91" y="128.7" width="1" height="17.3" fill="#2ebd85" fill-opacity="0.75"/>
<rect x="633.81" y="130.5" width="3.2" height="3.6" fill="#2ebd85"/>
<rect x="638.69" y="117.8" width="1" height="23.2" fill="#2ebd85" fill-opacity="0.75"/>
<rect x="637.59" y="119.6" width="3.2" height="13.4" fill="#2ebd85"/>
<rect x="642.48" y="92" width="1" height="69.5" fill="#f6465d" fill-opacity="0.75"/>
<rect x="641.38" y="120.2" width="3.2" height="8.6" fill="#f6465d"/>
<rect x="646.26" y="103.4" width="1" height="29.6" fill="#2ebd85" fill-opacity="0.75"/>
<rect x="645.16" y="113.8" width="3.2" height="15" fill="#2ebd85"/>
<rect x="650.04" y="109.8" width="1" height="9" fill="#2ebd85" fill-opacity="0.75"/>
<rect x="648.94" y="113" width="3.2" height="1.5" fill="#2ebd85"/>
<rect x="653.82" y="106" width="1" height="13.5" fill="#2ebd85" fill-opacity="0.75"/>
<rect x="652.72" y="106.6" width="3.2" height="7.7" fill="#2ebd85"/>
<rect x="657.6" y="106.2" width="1" height="36.8" fill="#f6465d" fill-opacity="0.75"/>
<rect x="656.5" y="106.6" width="3.2" height="20.4" fill="#f6465d"/>
<rect x="661.39" y="121.6" width="1" height="21.1" fill="#f6465d" fill-opacity="0.75"/>
<rect x="660.29" y="127" width="3.2" height="3.9" fill="#f6465d"/>
<rect x="665.17" y="103" width="1" height="32" fill="#2ebd85" fill-opacity="0.75"/>
<rect x="664.07" y="106.6" width="3.2" height="24.3" fill="#2ebd85"/>
<rect x="668.95" y="100" width="1" height="15.7" fill="#f6465d" fill-opacity="0.75"/>
<rect x="667.85" y="106.6" width="3.2" height="6.5" fill="#f6465d"/>
<rect x="672.73" y="103" width="1" height="13.2" fill="#2ebd85" fill-opacity="0.75"/>
<rect x="671.63" y="106" width="3.2" height="7.1" fill="#2ebd85"/>
<rect x="676.51" y="99" width="1" height="10.8" fill="#f6465d" fill-opacity="0.75"/>
<rect x="675.41" y="105" width="3.2" height="1.6" fill="#f6465d"/>
<rect x="680.3" y="85.6" width="1" height="20.9" fill="#2ebd85" fill-opacity="0.75"/>
<rect x="679.2" y="90" width="3.2" height="16" fill="#2ebd85"/>
<rect x="684.08" y="72.8" width="1" height="22.6" fill="#2ebd85" fill-opacity="0.75"/>
<rect x="682.98" y="81.7" width="3.2" height="8.3" fill="#2ebd85"/>
<rect x="687.86" y="69.9" width="1" height="15.1" fill="#2ebd85" fill-opacity="0.75"/>
<rect x="686.76" y="80.9" width="3.2" height="1.2" fill="#2ebd85"/>
<rect x="691.64" y="79.2" width="1" height="33" fill="#f6465d" fill-opacity="0.75"/>
<rect x="690.54" y="81.1" width="3.2" height="30.6" fill="#f6465d"/>
<rect x="695.42" y="98.5" width="1" height="36.1" fill="#f6465d" fill-opacity="0.75"/>
<rect x="694.32" y="111.5" width="3.2" height="14.5" fill="#f6465d"/>
<rect x="699.21" y="122.6" width="1" height="30" fill="#2ebd85" fill-opacity="0.75"/>
<rect x="698.11" y="124.3" width="3.2" height="1.7" fill="#2ebd85"/>
<rect x="702.99" y="118.3" width="1" height="16.3" fill="#f6465d" fill-opacity="0.75"/>
<rect x="701.89" y="124" width="3.2" height="2.9" fill="#f6465d"/>
<rect x="706.77" y="125.2" width="1" height="17.1" fill="#f6465d" fill-opacity="0.75"/>
<rect x="705.67" y="126.4" width="3.2" height="11.6" fill="#f6465d"/>
<rect x="710.55" y="131.2" width="1" height="19.7" fill="#f6465d" fill-opacity="0.75"/>
<rect x="709.45" y="137.2" width="3.2" height="2.5" fill="#f6465d"/>
<rect x="714.33" y="115.7" width="1" height="30" fill="#2ebd85" fill-opacity="0.75"/>
<rect x="713.23" y="120" width="3.2" height="19.7" fill="#2ebd85"/>
<rect x="718.12" y="114.9" width="1" height="9.4" fill="#2ebd85" fill-opacity="0.75"/>
<rect x="717.02" y="115.7" width="3.2" height="4.3" fill="#2ebd85"/>
<rect x="721.9" y="113.2" width="1" height="23.1" fill="#f6465d" fill-opacity="0.75"/>
<rect x="720.8" y="115.7" width="3.2" height="18.9" fill="#f6465d"/>
<rect x="725.68" y="126" width="1" height="19.7" fill="#f6465d" fill-opacity="0.75"/>
<rect x="724.58" y="134.3" width="3.2" height="8" fill="#f6465d"/>
<rect x="729.46" y="135.5" width="1" height="7.7" fill="#2ebd85" fill-opacity="0.75"/>
<rect x="728.36" y="136.3" width="3.2" height="6" fill="#2ebd85"/>
<rect x="733.24" y="135.5" width="1" height="12.8" fill="#f6465d" fill-opacity="0.75"/>
<rect x="732.14" y="136.7" width="3.2" height="8.5" fill="#f6465d"/>
<rect x="737.03" y="138.9" width="1" height="17.1" fill="#f6465d" fill-opacity="0.75"/>
<rect x="735.93" y="144.9" width="3.2" height="5.1" fill="#f6465d"/>
<rect x="740.81" y="132" width="1" height="19.7" fill="#2ebd85" fill-opacity="0.75"/>
<rect x="739.71" y="145.7" width="3.2" height="4.3" fill="#2ebd85"/>
<rect x="744.59" y="138.9" width="1" height="11.1" fill="#2ebd85" fill-opacity="0.75"/>
<rect x="743.49" y="140.6" width="3.2" height="6" fill="#2ebd85"/>
<rect x="748.37" y="124.3" width="1" height="18" fill="#2ebd85" fill-opacity="0.75"/>
<rect x="747.27" y="128.6" width="3.2" height="12.5" fill="#2ebd85"/>
<rect x="752.15" y="118.3" width="1" height="13.7" fill="#2ebd85" fill-opacity="0.75"/>
<rect x="751.05" y="120.5" width="3.2" height="8.1" fill="#2ebd85"/>
<rect x="755.94" y="119.3" width="1" height="7" fill="#2ebd85" fill-opacity="0.75"/>
<rect x="754.84" y="121" width="3.2" height="1.8" fill="#2ebd85"/>
<rect x="759.72" y="120.3" width="1" height="6" fill="#2ebd85" fill-opacity="0.75"/>
<rect x="758.62" y="121.2" width="3.2" height="1.2" fill="#2ebd85"/>
<rect x="763.5" y="100" width="1" height="22.9" fill="#2ebd85" fill-opacity="0.75"/>
<rect x="762.4" y="101.1" width="3.2" height="20.9" fill="#2ebd85"/>
<rect x="767.28" y="98.4" width="1" height="31.4" fill="#f6465d" fill-opacity="0.75"/>
<rect x="766.18" y="101.5" width="3.2" height="27.5" fill="#f6465d"/>
<rect x="771.06" y="127.6" width="1" height="23.6" fill="#f6465d" fill-opacity="0.75"/>
<rect x="769.96" y="128.4" width="3.2" height="10.7" fill="#f6465d"/>
<rect x="774.85" y="137.2" width="1" height="20.6" fill="#f6465d" fill-opacity="0.75"/>
<rect x="773.75" y="138.7" width="3.2" height="13.7" fill="#f6465d"/>
<rect x="778.63" y="134.3" width="1" height="19.1" fill="#2ebd85" fill-opacity="0.75"/>
<rect x="777.53" y="139.4" width="3.2" height="13.2" fill="#2ebd85"/>
<rect x="782.41" y="139.1" width="1" height="4.7" fill="#f6465d" fill-opacity="0.75"/>
<rect x="781.31" y="140.1" width="3.2" height="1.5" fill="#f6465d"/>
<rect x="786.19" y="137.2" width="1" height="7.4" fill="#f6465d" fill-opacity="0.75"/>
<rect x="785.09" y="140.9" width="3.2" height="1.1" fill="#f6465d"/>
<rect x="789.97" y="133.5" width="1" height="35.3" fill="#f6465d" fill-opacity="0.75"/>
<rect x="788.87" y="140.9" width="3.2" height="1" fill="#f6465d"/>
<rect x="793.76" y="126.2" width="1" height="15.8" fill="#2ebd85" fill-opacity="0.75"/>
<rect x="792.66" y="130.3" width="3.2" height="11.3" fill="#2ebd85"/>
<rect x="797.54" y="109.2" width="1" height="22.8" fill="#2ebd85" fill-opacity="0.75"/>
<rect x="796.44" y="110" width="3.2" height="20.6" fill="#2ebd85"/>
<rect x="801.32" y="108.7" width="1" height="17.6" fill="#f6465d" fill-opacity="0.75"/>
<rect x="800.22" y="110.4" width="3.2" height="2.7" fill="#f6465d"/>
<rect x="805.1" y="82.6" width="1" height="30.9" fill="#2ebd85" fill-opacity="0.75"/>
<rect x="804" y="91.5" width="3.2" height="21.6" fill="#2ebd85"/>
<rect x="808.88" y="87.4" width="1" height="11.5" fill="#2ebd85" fill-opacity="0.75"/>
<rect x="807.78" y="88.6" width="3.2" height="3.4" fill="#2ebd85"/>
<rect x="812.67" y="79.2" width="1" height="35.3" fill="#f6465d" fill-opacity="0.75"/>
<rect x="811.57" y="88.6" width="3.2" height="17.2" fill="#f6465d"/>
<rect x="816.45" y="70" width="1" height="44.6" fill="#2ebd85" fill-opacity="0.75"/>
<rect x="815.35" y="100.9" width="3.2" height="5.1" fill="#2ebd85"/>
<rect x="820.23" y="76" width="1" height="36" fill="#2ebd85" fill-opacity="0.75"/>
<rect x="819.13" y="81.1" width="3.2" height="20.6" fill="#2ebd85"/>
<rect x="824.01" y="79.4" width="1" height="16.3" fill="#f6465d" fill-opacity="0.75"/>
<rect x="822.91" y="80.6" width="3.2" height="14.3" fill="#f6465d"/>
<rect x="827.79" y="77.7" width="1" height="28.3" fill="#2ebd85" fill-opacity="0.75"/>
<rect x="826.69" y="92.3" width="3.2" height="1.7" fill="#2ebd85"/>
<rect x="831.58" y="76" width="1" height="22.3" fill="#2ebd85" fill-opacity="0.75"/>
<rect x="830.48" y="87.2" width="3.2" height="6" fill="#2ebd85"/>
<rect x="835.36" y="85.8" width="1" height="3.9" fill="#f6465d" fill-opacity="0.75"/>
<rect x="834.26" y="87.2" width="3.2" height="1.3" fill="#f6465d"/>
<rect x="839.14" y="84.6" width="1" height="16.3" fill="#f6465d" fill-opacity="0.75"/>
<rect x="838.04" y="88.9" width="3.2" height="11.1" fill="#f6465d"/>
<rect x="842.92" y="98.3" width="1" height="25.7" fill="#f6465d" fill-opacity="0.75"/>
<rect x="841.82" y="99.2" width="3.2" height="3.8" fill="#f6465d"/>
<rect x="846.7" y="93.2" width="1" height="18" fill="#f6465d" fill-opacity="0.75"/>
<rect x="845.6" y="102.2" width="3.2" height="3.8" fill="#f6465d"/>
<rect x="850.49" y="88.9" width="1" height="18" fill="#2ebd85" fill-opacity="0.75"/>
<rect x="849.39" y="93.2" width="3.2" height="12.8" fill="#2ebd85"/>
<rect x="854.27" y="79.4" width="1" height="15.5" fill="#2ebd85" fill-opacity="0.75"/>
<rect x="853.17" y="88.9" width="3.2" height="5.1" fill="#2ebd85"/>
<rect x="858.05" y="82" width="1" height="22.3" fill="#f6465d" fill-opacity="0.75"/>
<rect x="856.95" y="88" width="3.2" height="12.9" fill="#f6465d"/>
<rect x="861.83" y="99.2" width="1" height="12" fill="#f6465d" fill-opacity="0.75"/>
<rect x="860.73" y="100" width="3.2" height="10.3" fill="#f6465d"/>
<rect x="865.61" y="105.2" width="1" height="27.4" fill="#f6465d" fill-opacity="0.75"/>
<rect x="864.51" y="109.4" width="3.2" height="15.5" fill="#f6465d"/>
<rect x="869.4" y="100" width="1" height="57.4" fill="#2ebd85" fill-opacity="0.75"/>
<rect x="868.3" y="106" width="3.2" height="18.9" fill="#2ebd85"/>
<rect x="873.18" y="104.4" width="1" height="28" fill="#f6465d" fill-opacity="0.75"/>
<rect x="872.08" y="106" width="3.2" height="18.9" fill="#f6465d"/>
<rect x="876.96" y="116.9" width="1" height="15.5" fill="#f6465d" fill-opacity="0.75"/>
<rect x="875.86" y="124.3" width="3.2" height="7.3" fill="#f6465d"/>
<rect x="880.74" y="117.4" width="1" height="17.6" fill="#f6465d" fill-opacity="0.75"/>
<rect x="879.64" y="130.1" width="3.2" height="1" fill="#f6465d"/>
<rect x="884.52" y="112" width="1" height="23.3" fill="#f6465d" fill-opacity="0.75"/>
<rect x="883.42" y="130.1" width="3.2" height="1.1" fill="#f6465d"/>
<rect x="888.31" y="128.7" width="1" height="6.3" fill="#f6465d" fill-opacity="0.75"/>
<rect x="887.21" y="130.9" width="3.2" height="1" fill="#f6465d"/>
<rect x="892.09" y="127.2" width="1" height="12.5" fill="#2ebd85" fill-opacity="0.75"/>
<rect x="890.99" y="130.9" width="3.2" height="1" fill="#2ebd85"/>
<rect x="895.87" y="121.3" width="1" height="15.2" fill="#2ebd85" fill-opacity="0.75"/>
<rect x="894.77" y="126.2" width="3.2" height="5.4" fill="#2ebd85"/>
<rect x="899.65" y="120.6" width="1" height="18.4" fill="#f6465d" fill-opacity="0.75"/>
<rect x="898.55" y="124.3" width="3.2" height="10.7" fill="#f6465d"/>
<rect x="903.43" y="122" width="1" height="20.9" fill="#2ebd85" fill-opacity="0.75"/>
<rect x="902.33" y="123.2" width="3.2" height="11.8" fill="#2ebd85"/>
<rect x="907.22" y="122" width="1" height="15" fill="#f6465d" fill-opacity="0.75"/>
<rect x="906.12" y="123.2" width="3.2" height="7.7" fill="#f6465d"/>
<rect x="911" y="118.4" width="1" height="13.2" fill="#2ebd85" fill-opacity="0.75"/>
<rect x="909.9" y="126.2" width="3.2" height="4.7" fill="#2ebd85"/>
<rect x="914.78" y="122.8" width="1" height="4.4" fill="#2ebd85" fill-opacity="0.75"/>
<rect x="913.68" y="125" width="3.2" height="1.2" fill="#2ebd85"/>
<rect x="918.56" y="124.7" width="1" height="9.1" fill="#f6465d" fill-opacity="0.75"/>
<rect x="917.46" y="125.3" width="3.2" height="7.7" fill="#f6465d"/>
<rect x="922.34" y="128" width="1" height="8.8" fill="#f6465d" fill-opacity="0.75"/>
<rect x="921.24" y="132.6" width="3.2" height="2.4" fill="#f6465d"/>
<rect x="926.13" y="129.4" width="1" height="17.4" fill="#f6465d" fill-opacity="0.75"/>
<rect x="925.03" y="134" width="3.2" height="1" fill="#f6465d"/>
<rect x="929.91" y="128.7" width="1" height="7.3" fill="#2ebd85" fill-opacity="0.75"/>
<rect x="928.81" y="130.1" width="3.2" height="4.9" fill="#2ebd85"/>
<rect x="933.69" y="120" width="1" height="12" fill="#2ebd85" fill-opacity="0.75"/>
<rect x="932.59" y="120.9" width="3.2" height="10.3" fill="#2ebd85"/>
<rect x="937.47" y="115.7" width="1" height="23.2" fill="#f6465d" fill-opacity="0.75"/>
<rect x="936.37" y="120.9" width="3.2" height="12.3" fill="#f6465d"/>
<rect x="941.25" y="129" width="1" height="5.2" fill="#2ebd85" fill-opacity="0.75"/>
<rect x="940.15" y="130.3" width="3.2" height="2.6" fill="#2ebd85"/>
<rect x="945.04" y="130" width="1" height="7.2" fill="#f6465d" fill-opacity="0.75"/>
<rect x="943.94" y="130.3" width="3.2" height="1.7" fill="#f6465d"/>
<rect x="948.82" y="131.2" width="1" height="25.8" fill="#f6465d" fill-opacity="0.75"/>
<rect x="947.72" y="132" width="3.2" height="24.5" fill="#f6465d"/>
<rect x="952.6" y="151.7" width="1" height="32.5" fill="#f6465d" fill-opacity="0.75"/>
<rect x="951.5" y="156" width="3.2" height="16.1" fill="#f6465d"/>
<rect x="956.38" y="167.4" width="1" height="36.4" fill="#f6465d" fill-opacity="0.75"/>
<rect x="955.28" y="171.2" width="3.2" height="23.3" fill="#f6465d"/>
<rect x="960.16" y="179.6" width="1" height="22.3" fill="#2ebd85" fill-opacity="0.75"/>
<rect x="959.06" y="191.7" width="3.2" height="2.2" fill="#2ebd85"/>
<rect x="963.95" y="189.8" width="1" height="34.4" fill="#f6465d" fill-opacity="0.75"/>
<rect x="962.85" y="191.7" width="3.2" height="2.2" fill="#f6465d"/>
<rect x="967.73" y="182.3" width="1" height="17.7" fill="#2ebd85" fill-opacity="0.75"/>
<rect x="966.63" y="185.1" width="3.2" height="9.4" fill="#2ebd85"/>
<rect x="971.51" y="138.9" width="1" height="50.9" fill="#2ebd85" fill-opacity="0.75"/>
<rect x="970.41" y="142.8" width="3.2" height="42.3" fill="#2ebd85"/>
<rect x="975.29" y="141.8" width="1" height="48" fill="#f6465d" fill-opacity="0.75"/>
<rect x="974.19" y="142.3" width="3.2" height="41.9" fill="#f6465d"/>
<rect x="979.07" y="170.2" width="1" height="38.2" fill="#2ebd85" fill-opacity="0.75"/>
<rect x="977.97" y="178.6" width="3.2" height="5.6" fill="#2ebd85"/>
<rect x="982.86" y="160" width="1" height="23.3" fill="#2ebd85" fill-opacity="0.75"/>
<rect x="981.76" y="160.9" width="3.2" height="17.7" fill="#2ebd85"/>
<rect x="986.64" y="160" width="1" height="6.5" fill="#f6465d" fill-opacity="0.75"/>
<rect x="985.54" y="161.5" width="3.2" height="4.1" fill="#f6465d"/>
<rect x="990.42" y="163.7" width="1" height="28.1" fill="#f6465d" fill-opacity="0.75"/>
<rect x="989.32" y="164.7" width="3.2" height="16.3" fill="#f6465d"/>
<rect x="994.2" y="179.7" width="1" height="8.9" fill="#f6465d" fill-opacity="0.75"/>
<rect x="993.1" y="181" width="3.2" height="3.2" fill="#f6465d"/>
<rect x="997.98" y="182.5" width="1" height="33.5" fill="#f6465d" fill-opacity="0.75"/>
<rect x="996.88" y="183.5" width="3.2" height="29" fill="#f6465d"/>
<rect x="1001.77" y="195" width="1" height="33.5" fill="#f6465d" fill-opacity="0.75"/>
<rect x="1000.67" y="212" width="3.2" height="11.5" fill="#f6465d"/>
<rect x="1005.55" y="199.5" width="1" height="34" fill="#2ebd85" fill-opacity="0.75"/>
<rect x="1004.45" y="200.5" width="3.2" height="23" fill="#2ebd85"/>
<rect x="1009.33" y="193.5" width="1" height="18.5" fill="#2ebd85" fill-opacity="0.75"/>
<rect x="1008.23" y="196.7" width="3.2" height="4" fill="#2ebd85"/>
<rect x="1013.11" y="194" width="1" height="20.5" fill="#f6465d" fill-opacity="0.75"/>
<rect x="1012.01" y="196.7" width="3.2" height="13.8" fill="#f6465d"/>
<rect x="1016.89" y="188.6" width="1" height="22.7" fill="#2ebd85" fill-opacity="0.75"/>
<rect x="1015.79" y="195.9" width="3.2" height="14.6" fill="#2ebd85"/>
<rect x="1020.68" y="192.7" width="1" height="4" fill="#2ebd85" fill-opacity="0.75"/>
<rect x="1019.58" y="193.5" width="3.2" height="2.4" fill="#2ebd85"/>
<rect x="1024.46" y="195" width="1" height="7" fill="#f6465d" fill-opacity="0.75"/>
<rect x="1023.36" y="195.9" width="3.2" height="4.1" fill="#f6465d"/>
<line x1="5.9" y1="294" x2="1024" y2="134.7" stroke="#d93a4f" stroke-width="1.35"/>
<line x1="937" y1="239.6" x2="1024" y2="210.5" stroke="#2c5bd8" stroke-width="1.4"/>
<rect x="0" y="0" width="1024" height="25" fill="#1a1b21"/>
<rect x="0" y="0" width="1024" height="1.5" fill="#2a2e39"/>
<rect x="0" y="24.3" width="1024" height="1" fill="#2a2d35"/>
<rect x="0" y="25" width="3.2" height="383" fill="#19191b"/>
<rect x="3.2" y="25" width="2.5" height="383" fill="#29292c"/>
<path d="M0.5,408 V399 Q0.5,396 3,396 Q5.2,396 5.2,399 V408" fill="#1c1c1e" stroke="#38383b" stroke-width="0.8"/>
<path d="M3.4,401.6 Q2.2,403.2 3.4,404.8" fill="none" stroke="#9a9a9e" stroke-width="0.8"/>
<circle cx="17.65" cy="13.5" r="6.75" fill="#f2931f"/>
<text x="17.65" y="16.7" font-size="8.6" font-weight="bold" fill="#fbefe0" text-anchor="middle" transform="rotate(14 17.65 13.5)">&#x0E3F;</text>
<path d="M98.9,7.1 L104.1,7.1 L101.5,10.8 Z" fill="#eaecef"/>
<path d="M79.2,22.2 L81.6,19.8 M80.0,19.8 H81.6 V21.4" fill="none" stroke="#4b505a" stroke-width="0.6"/>
<path d="M246.9,12.25 L251.5,12.25 L249.2,14.75 Z" fill="#5f6470"/>
<g fill="none" stroke="#5f6470" stroke-width="0.9">
  <path d="M264.3,9.5 V17.6 H272.3"/><path d="M265.5,15.6 L267.5,13 L269.1,14.4 L271.9,11.6"/>
  <path d="M285,9.8 L286.4,11.6 V15.6 L285,17.4 L283.6,15.6 V11.6 Z"/><path d="M288.6,9.8 L290,11.6 V15.6 L288.6,17.4 L287.2,15.6 V11.6 Z"/>
  <path d="M301.3,12 H303.5 L304.3,10.8 H306.7 L307.5,12 H309.7 V17.2 H301.3 Z"/><circle cx="305.5" cy="14.6" r="1.5"/>
  <circle cx="324.25" cy="13.9" r="4"/><path d="M324.25,12.1 V15.7 M322.45,13.9 H326.05"/>
  <path d="M343.1,9.6 L346.8,11.7 V15.8 L343.1,17.9 L339.4,15.8 V11.7 Z"/>
</g>
<circle cx="266.0" cy="10.6" r="0.5" fill="#5f6470"/>
<circle cx="343.1" cy="13.75" r="0.9" fill="#5f6470"/>
<text x="38.48" y="13.95" font-size="11" font-weight="bold" fill="#eaecef" textLength="56.03" lengthAdjust="spacingAndGlyphs">BTC/USDT</text>
<text x="38.65" y="23.10" font-size="6.6" font-weight="normal" fill="#595e68" textLength="38.49" lengthAdjust="spacingAndGlyphs">Bitcoin Price</text>
<text x="127.61" y="16.75" font-size="7.8" font-weight="normal" fill="#5f6470" textLength="14.95" lengthAdjust="spacingAndGlyphs">Time</text>
<text x="148.45" y="16.75" font-size="7.8" font-weight="normal" fill="#5f6470" textLength="7.71" lengthAdjust="spacingAndGlyphs">1s</text>
<text x="161.71" y="16.75" font-size="7.8" font-weight="normal" fill="#5f6470" textLength="14.01" lengthAdjust="spacingAndGlyphs">15m</text>
<text x="181.55" y="16.75" font-size="7.8" font-weight="normal" fill="#5f6470" textLength="9.30" lengthAdjust="spacingAndGlyphs">1H</text>
<text x="196.35" y="16.75" font-size="7.8" font-weight="normal" fill="#5f6470" textLength="9.68" lengthAdjust="spacingAndGlyphs">4H</text>
<text x="211.47" y="16.75" font-size="7.8" font-weight="bold" fill="#eaecef" textLength="9.08" lengthAdjust="spacingAndGlyphs">1D</text>
<text x="225.95" y="16.75" font-size="7.8" font-weight="normal" fill="#5f6470" textLength="10.99" lengthAdjust="spacingAndGlyphs">1W</text>
<text x="957.27" y="16.80" font-size="7.8" font-weight="normal" fill="#5f6470" textLength="25.01" lengthAdjust="spacingAndGlyphs">Original</text>
<text x="991.64" y="16.80" font-size="7.8" font-weight="bold" fill="#eaecef" textLength="23.39" lengthAdjust="spacingAndGlyphs">Trading</text>
<text x="1016.17" y="16.80" font-size="7.8" font-weight="bold" fill="#eaecef" textLength="14.30" lengthAdjust="spacingAndGlyphs">View</text>
<text x="10.86" y="38.20" font-size="9.2" font-weight="normal" fill="#7d828b" textLength="37.92" lengthAdjust="spacingAndGlyphs">BTCUSDT</text>
<text x="56.25" y="38.20" font-size="9.2" font-weight="normal" fill="#7d828b" textLength="11.07" lengthAdjust="spacingAndGlyphs">1D</text>
<text x="73.66" y="38.20" font-size="9.2" font-weight="normal" fill="#7d828b" textLength="33.65" lengthAdjust="spacingAndGlyphs">Binance</text>
<rect x="51.9" y="34.6" width="2" height="1.7" fill="#7d828b"/><rect x="69.6" y="34.6" width="2" height="1.7" fill="#7d828b"/>
<text x="111.92" y="37.70" font-size="7.9" font-weight="normal" fill="#7d828b" textLength="4.77" lengthAdjust="spacingAndGlyphs">O</text>
<text x="116.92" y="37.70" font-size="7.9" font-weight="normal" fill="#e2435a" textLength="38.44" lengthAdjust="spacingAndGlyphs">112,774.49</text>
<text x="158.29" y="37.70" font-size="7.9" font-weight="normal" fill="#7d828b" textLength="6.45" lengthAdjust="spacingAndGlyphs">H</text>
<text x="164.22" y="37.70" font-size="7.9" font-weight="normal" fill="#e2435a" textLength="38.03" lengthAdjust="spacingAndGlyphs">113,322.39</text>
<text x="205.39" y="37.70" font-size="7.9" font-weight="normal" fill="#7d828b" textLength="4.25" lengthAdjust="spacingAndGlyphs">L</text>
<text x="209.72" y="37.70" font-size="7.9" font-weight="normal" fill="#e2435a" textLength="38.34" lengthAdjust="spacingAndGlyphs">110,090.29</text>
<text x="250.64" y="37.70" font-size="7.9" font-weight="normal" fill="#7d828b" textLength="5.23" lengthAdjust="spacingAndGlyphs">C</text>
<text x="256.31" y="37.70" font-size="7.9" font-weight="normal" fill="#e2435a" textLength="38.42" lengthAdjust="spacingAndGlyphs">111,688.68</text>
<text x="297.40" y="37.70" font-size="7.9" font-weight="normal" fill="#e2435a" textLength="32.74" lengthAdjust="spacingAndGlyphs">-1,085.82</text>
<text x="332.29" y="37.70" font-size="7.9" font-weight="normal" fill="#e2435a" textLength="29.46" lengthAdjust="spacingAndGlyphs">(-0.96%)</text>
<text x="10.30" y="51.80" font-size="8.2" font-weight="normal" fill="#7d828b" textLength="51.38" lengthAdjust="spacingAndGlyphs">MA 200 close 0</text>
<text x="66.15" y="51.80" font-size="8.2" font-weight="bold" fill="#e6e6e6" textLength="37.75" lengthAdjust="spacingAndGlyphs">106,689.60</text>
<text x="10.30" y="65.80" font-size="8.2" font-weight="normal" fill="#7d828b" textLength="46.97" lengthAdjust="spacingAndGlyphs">MA 25 close 0</text>
<text x="61.94" y="65.80" font-size="8.2" font-weight="bold" fill="#c13ec6" textLength="37.99" lengthAdjust="spacingAndGlyphs">116,379.18</text>
<text x="10.29" y="80.00" font-size="8.2" font-weight="normal" fill="#7d828b" textLength="43.58" lengthAdjust="spacingAndGlyphs">MA 7 close 0</text>
<text x="58.34" y="80.00" font-size="8.2" font-weight="bold" fill="#45c6c4" textLength="37.66" lengthAdjust="spacingAndGlyphs">119,843.62</text>
<rect x="11.6" y="85.4" width="16.4" height="11.6" rx="2" fill="#1a1b21" stroke="#2b2f38" stroke-width="1"/>
<path d="M17.1,92.6 L19.6,90.3 L22.1,92.6" fill="none" stroke="#c9ccd2" stroke-width="1.5"/>
<circle cx="22.35" cy="389.4" r="9.6" fill="#131313" stroke="#38393d" stroke-width="0.9"/>
<path d="M16.2,386.6 H21.4 V392.7 H19.2 V388.6 H16.2 Z" fill="#f2f2f2"/><circle cx="23.1" cy="387.6" r="1.1" fill="#f2f2f2"/>
<path d="M25.9,386.6 H28.6 L25.6,392.7 H22.9 Z" fill="#f2f2f2"/>
</svg>
</body></html>
